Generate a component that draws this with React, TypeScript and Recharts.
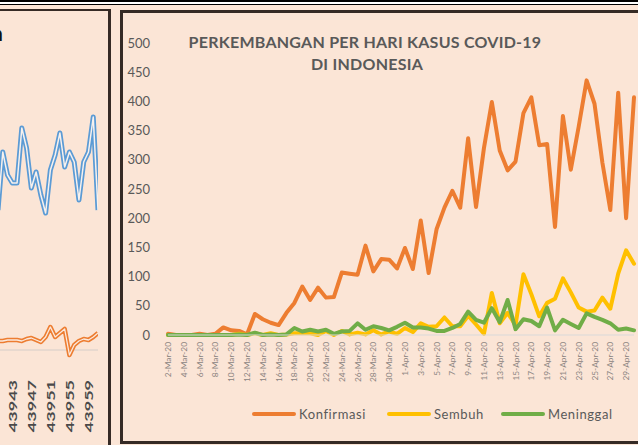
import React from 'react';
import { LineChart, Line, XAxis, YAxis, Legend, ReferenceLine } from 'recharts';

// daily cases, 2 Mar 2020 – 30 Apr 2020
const dates = [
  '2-Mar-20', '3-Mar-20', '4-Mar-20', '5-Mar-20', '6-Mar-20', '7-Mar-20', '8-Mar-20', '9-Mar-20', '10-Mar-20', '11-Mar-20',
  '12-Mar-20', '13-Mar-20', '14-Mar-20', '15-Mar-20', '16-Mar-20', '17-Mar-20', '18-Mar-20', '19-Mar-20', '20-Mar-20', '21-Mar-20',
  '22-Mar-20', '23-Mar-20', '24-Mar-20', '25-Mar-20', '26-Mar-20', '27-Mar-20', '28-Mar-20', '29-Mar-20', '30-Mar-20', '31-Mar-20',
  '1-Apr-20', '2-Apr-20', '3-Apr-20', '4-Apr-20', '5-Apr-20', '6-Apr-20', '7-Apr-20', '8-Apr-20', '9-Apr-20', '10-Apr-20',
  '11-Apr-20', '12-Apr-20', '13-Apr-20', '14-Apr-20', '15-Apr-20', '16-Apr-20', '17-Apr-20', '18-Apr-20', '19-Apr-20', '20-Apr-20',
  '21-Apr-20', '22-Apr-20', '23-Apr-20', '24-Apr-20', '25-Apr-20', '26-Apr-20', '27-Apr-20', '28-Apr-20', '29-Apr-20', '30-Apr-20',
];
const konfirmasi = [
  2, 0, 0, 0, 2, 0, 2, 13, 8, 7,
  1, 36, 27, 21, 17, 38, 55, 83, 60, 81,
  64, 65, 107, 105, 103, 153, 109, 130, 129, 114,
  149, 113, 196, 106, 181, 218, 247, 218, 337, 219,
  320, 399, 316, 282, 297, 380, 407, 325, 327, 185,
  375, 283, 357, 436, 396, 295, 214, 415, 200, 407,
];
const sembuh = [
  0, 0, 0, 0, 0, 0, 0, 0, 0, 2,
  0, 3, 0, 3, 0, 1, 3, 3, 3, 0,
  7, 0, 7, 1, 4, 1, 8, 1, 6, 2,
  12, 5, 20, 14, 15, 30, 15, 15, 33, 18,
  2, 72, 20, 38, 17, 104, 70, 32, 55, 62,
  97, 73, 47, 40, 42, 64, 45, 105, 145, 122,
];
const meninggal = [
  0, 0, 0, 0, 0, 0, 0, 0, 0, 1,
  0, 4, 0, 1, 0, 1, 12, 6, 9, 6,
  9, 2, 6, 7, 20, 9, 15, 12, 8, 14,
  21, 13, 13, 11, 7, 7, 12, 19, 40, 26,
  21, 46, 22, 60, 10, 27, 24, 15, 47, 8,
  26, 19, 12, 37, 31, 26, 20, 9, 11, 8,
];
const seriesNames = ['Konfirmasi', 'Sembuh', 'Meninggal'];
const seriesColors = ['#ED7D31', '#FFC000', '#70AD47'];
const yTicks = [0, 50, 100, 150, 200, 250, 300, 350, 400, 450, 500];
const titleLines = ['PERKEMBANGAN PER HARI KASUS COVID-19', 'DI INDONESIA'];

// neighbouring chart, only its right edge is in view (x = excel date serials)
const sideSerials = [
  43940, 43941, 43942, 43943, 43944, 43945, 43946, 43947, 43948, 43949, 43950,
  43951, 43952, 43953, 43954, 43955, 43956, 43957, 43958, 43959, 43960, 43961,
];
const sideBlue = [140, 198, 175, 167, 167, 222, 202, 162, 178, 155, 137, 180, 195, 217, 183, 198, 188, 150, 188, 198, 233, 140];
const sideOrange = [9, 9, 10, 10, 10, 9, 11, 12, 10, 8, 13, 23, 13, 17, 21, -5, 5, 9, 11, 10, 13, 17];
const sideTicks = [43943, 43947, 43951, 43955, 43959];

const mainData = dates.map((d, i) => ({
  date: d,
  Konfirmasi: konfirmasi[i],
  Sembuh: sembuh[i],
  Meninggal: meninggal[i],
}));
const sideData = sideSerials.map((s, i) => ({ serial: s, blue: sideBlue[i], orange: sideOrange[i] }));

const BG = '#FBE5D6';
const FRAME = '#352a25';

function DateTick(props: any) {
  const { x, y, payload } = props;
  return (
    <text
      x={x}
      y={y}
      transform={`rotate(-90 ${x} ${y})`}
      textAnchor="end"
      dominantBaseline="central"
      fontSize={8.3}
      fontFamily="Lato"
      fill="#8a8380"
    >
      {payload.value}
    </text>
  );
}

function SerialTick(props: any) {
  const { x, y, payload } = props;
  // label top sits just under the baseline, glyphs stretched along the text
  const top = y + 10;
  return (
    <text
      x={0}
      y={0}
      transform={`translate(${x} ${top}) rotate(-90) scale(1.5 1)`}
      textAnchor="end"
      dominantBaseline="central"
      fontSize={12}
      fontFamily="Lato"
      fontWeight={700}
      fill="#4a4a4a"
    >
      {payload.value}
    </text>
  );
}

function LegendBox() {
  return (
    <div style={{ display: 'flex', alignItems: 'center', fontFamily: 'Lato', fontSize: 13, color: '#595959', letterSpacing: 0.6 }}>
      {seriesNames.map((n, i) => (
        <div key={n} style={{ display: 'flex', alignItems: 'center', marginRight: i === 0 ? 21 : 17 }}>
          <div style={{ width: 44, height: 4, borderRadius: 2, background: seriesColors[i], marginRight: 3 }} />
          <span>{n}</span>
        </div>
      ))}
    </div>
  );
}

export default function App() {
  return (
    <div style={{ position: 'fixed', left: 0, top: 0, width: 638, height: 445, overflow: 'hidden', background: BG }}>
      {/* page rule at the top */}
      <div style={{ position: 'absolute', left: 0, top: 0, width: 638, height: 2, background: '#000' }} />
      <div style={{ position: 'absolute', left: 0, top: 2, width: 638, height: 2, background: '#fff' }} />
      <div style={{ position: 'absolute', left: 0, top: 4, width: 638, height: 1, background: '#000' }} />

      {/* left chart (cut off) */}
      <div style={{ position: 'absolute', left: 0, top: 9, width: 111, height: 2, background: FRAME }} />
      <div style={{ position: 'absolute', left: 108, top: 9, width: 3, height: 440, background: FRAME }} />
      <div style={{ position: 'absolute', left: -9, top: 20, fontFamily: 'Lato', fontWeight: 700, fontSize: 21, color: '#111' }}>n</div>
      <div style={{ position: 'absolute', left: -2, top: 0 }}>
        <LineChart width={100} height={445} data={sideData} margin={{ top: 50, right: 0, bottom: 45, left: 0 }}>
          <XAxis
            dataKey="serial"
            type="number"
            domain={[43940, 43961]}
            ticks={sideTicks}
            interval={0}
            axisLine={false}
            tickLine={false}
            tickSize={0}
            tickMargin={0}
            height={30}
            tick={<SerialTick />}
          />
          <YAxis hide domain={[-20, 300]} />
          <ReferenceLine y={0} stroke="#d6cdc8" strokeWidth={1.2} />
          <Line dataKey="blue" stroke="#5B9BD5" strokeWidth={5} dot={false} isAnimationActive={false} strokeLinejoin="round" />
          <Line dataKey="blue" stroke="#f7f1ee" strokeWidth={1.5} dot={false} isAnimationActive={false} strokeLinejoin="round" />
          <Line dataKey="orange" stroke="#ED7D31" strokeWidth={4.5} dot={false} isAnimationActive={false} strokeLinejoin="round" />
          <Line dataKey="orange" stroke="#fbe9dd" strokeWidth={1.3} dot={false} isAnimationActive={false} strokeLinejoin="round" />
        </LineChart>
      </div>

      {/* main chart frame */}
      <div style={{ position: 'absolute', left: 120, top: 10, width: 540, height: 3, background: FRAME }} />
      <div style={{ position: 'absolute', left: 120, top: 10, width: 3, height: 434, background: FRAME }} />
      <div style={{ position: 'absolute', left: 120, top: 441, width: 540, height: 3, background: FRAME }} />

      <div style={{ position: 'absolute', left: 123, top: 13 }}>
        <LineChart width={540} height={428} data={mainData} margin={{ top: 30, right: 29, bottom: 46, left: 0 }}>
          <XAxis
            dataKey="date"
            interval={1}
            axisLine={{ stroke: '#d9d9d9', strokeWidth: 1 }}
            tickLine={false}
            tickSize={0}
            tickMargin={7}
            height={60}
            tick={<DateTick />}
          />
          <YAxis
            width={45}
            domain={[0, 500]}
            ticks={yTicks}
            axisLine={false}
            tickLine={false}
            tickSize={0}
            tickMargin={18}
            tick={{ fontSize: 13, fontFamily: 'Lato', fill: '#595959' }}
          />
          <Legend
            layout="horizontal"
            align="center"
            verticalAlign="middle"
            wrapperStyle={{ left: 129, top: 393, width: 400 }}
            content={<LegendBox />}
          />
          {seriesNames.map((n, i) => (
            <Line
              key={n}
              dataKey={n}
              stroke={seriesColors[i]}
              strokeWidth={4}
              dot={false}
              isAnimationActive={false}
              strokeLinejoin="round"
              strokeLinecap="round"
            />
          ))}
        </LineChart>
      </div>

      {/* title */}
      {titleLines.map((t, i) => (
        <div
          key={t}
          style={{
            position: 'absolute',
            left: 165 + i * 2,
            top: 32 + i * 22,
            width: 400,
            textAlign: 'center',
            fontFamily: 'Lato',
            fontWeight: 700,
            fontSize: 16,
            letterSpacing: 0.25,
            lineHeight: '20px',
            color: '#595959',
            whiteSpace: 'nowrap',
          }}
        >
          {t}
        </div>
      ))}
    </div>
  );
}
